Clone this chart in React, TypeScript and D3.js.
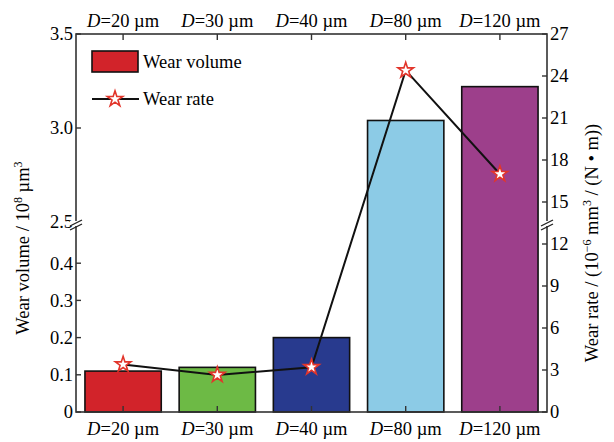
import * as d3 from "d3";

const categories = ["20", "30", "40", "80", "120"];
const wearVolume = [0.11, 0.12, 0.2, 3.04, 3.22];
const wearRate = [3.4, 2.65, 3.2, 24.4, 17.0];
const barColors = ["#d2232a", "#6dba45", "#283a8e", "#8ccbe6", "#9d3f8b"];
const leftTicksLow = [0, 0.1, 0.2, 0.3, 0.4];
const leftTicksHigh = [2.5, 3.0, 3.5];
const rightTicks = [0, 3, 6, 9, 12, 15, 18, 21, 24, 27];

const W = 614;
const H = 442;
const margin = { top: 34, right: 67, bottom: 30, left: 76 };
const font = "'Liberation Serif', 'Times New Roman', serif";
const axisColor = "#333";

export default function App() {
  const x0 = margin.left;
  const x1 = W - margin.right;
  const y0 = H - margin.bottom;
  const y1 = margin.top;

  const x = d3
    .scaleBand()
    .domain(categories)
    .range([x0, x1])
    .paddingInner(0.19)
    .paddingOuter(0.095);

  // broken left axis: 0–0.5 below the break, 2.5–3.5 above
  const yLeft = d3
    .scaleLinear()
    .domain([0, 0.5, 2.5, 3.5])
    .range([y0, 226, 222, y1]);

  const yRight = d3.scaleLinear().domain([0, 27]).range([y0, y1]);

  const line = d3
    .line<number>()
    .x((d, i) => x(categories[i])! + x.bandwidth() / 2)
    .y((d) => yRight(d));

  const star = d3.symbol().type(d3.symbolStar).size(75)();

  const breakY = 224;
  const breakMark = (cx: number) => (
    <g>
      <rect x={cx - 6} y={breakY - 3} width={12} height={5} fill="white" />
      <line x1={cx - 6} y1={breakY + 2} x2={cx + 6} y2={breakY - 4} stroke="#222" strokeWidth={1.3} />
      <line x1={cx - 6} y1={breakY + 6} x2={cx + 6} y2={breakY} stroke="#222" strokeWidth={1.3} />
    </g>
  );

  const fmt = (v: number) => (v === 0 ? "0" : v.toFixed(1));

  return (
    <svg
      width={W}
      height={H}
      style={{ position: "absolute", left: 0, top: 0, background: "white" }}
      fontFamily={font}
      fontSize={18.5}
    >
      {/* bars */}
      {wearVolume.map((v, i) => (
        <rect
          key={i}
          x={x(categories[i])}
          y={yLeft(v)}
          width={x.bandwidth()}
          height={y0 - yLeft(v)}
          fill={barColors[i]}
          stroke="#111"
          strokeWidth={1.6}
        />
      ))}

      {/* frame */}
      <rect x={x0} y={y1} width={x1 - x0} height={y0 - y1} fill="none" stroke={axisColor} strokeWidth={1.6} />

      {/* top & bottom ticks and labels */}
      {categories.map((c) => {
        const cx = x(c)! + x.bandwidth() / 2;
        return (
          <g key={c}>
            <line x1={cx} x2={cx} y1={y1} y2={y1 + 6} stroke={axisColor} strokeWidth={1.4} />
            <line x1={cx} x2={cx} y1={y0} y2={y0 - 6} stroke={axisColor} strokeWidth={1.4} />
            <text x={cx} y={27} textAnchor="middle">
              <tspan fontStyle="italic">D</tspan>={c} µm
            </text>
            <text x={cx} y={435} textAnchor="middle">
              <tspan fontStyle="italic">D</tspan>={c} µm
            </text>
          </g>
        );
      })}

      {/* left ticks */}
      {[...leftTicksLow, ...leftTicksHigh].map((t) => (
        <g key={"l" + t}>
          <line x1={x0} x2={x0 + 5} y1={yLeft(t)} y2={yLeft(t)} stroke={axisColor} strokeWidth={1.4} />
          <text x={x0 - 3} y={yLeft(t)} dy="0.35em" textAnchor="end">
            {fmt(t)}
          </text>
        </g>
      ))}

      {/* right ticks */}
      {rightTicks.map((t) => (
        <g key={"r" + t}>
          <line x1={x1} x2={x1 - 5} y1={yRight(t)} y2={yRight(t)} stroke={axisColor} strokeWidth={1.4} />
          <text x={x1 + 3} y={yRight(t)} dy="0.35em" textAnchor="start">
            {t}
          </text>
        </g>
      ))}

      {breakMark(x0)}
      {breakMark(x1)}

      {/* wear rate line */}
      <path d={line(wearRate)!} fill="none" stroke="#111" strokeWidth={2} />
      {wearRate.map((v, i) => (
        <path
          key={i}
          d={star!}
          transform={`translate(${x(categories[i])! + x.bandwidth() / 2},${yRight(v)})`}
          fill="white"
          stroke="#e2352b"
          strokeWidth={1.6}
        />
      ))}

      {/* legend */}
      <rect x={92} y={51} width={46} height={21} fill={barColors[0]} stroke="#111" strokeWidth={1.6} />
      <text x={143} y={68}>Wear volume</text>
      <line x1={92} x2={139} y1={99} y2={99} stroke="#111" strokeWidth={2} />
      <path d={star!} transform="translate(115,99)" fill="white" stroke="#e2352b" strokeWidth={1.6} />
      <text x={143} y={105}>Wear rate</text>

      {/* axis titles */}
      <text transform="translate(29,248) rotate(-90)" textAnchor="middle">
        Wear volume / 10<tspan dy="-7" fontSize={12}>8</tspan>
        <tspan dy="7"> µm</tspan>
        <tspan dy="-7" fontSize={12}>3</tspan>
      </text>
      <text transform="translate(598,243) rotate(-90)" textAnchor="middle">
        Wear rate / (10<tspan dy="-7" fontSize={12}>−6</tspan>
        <tspan dy="7"> mm</tspan>
        <tspan dy="-7" fontSize={12}>3</tspan>
        <tspan dy="7"> / (N • m))</tspan>
      </text>
    </svg>
  );
}
